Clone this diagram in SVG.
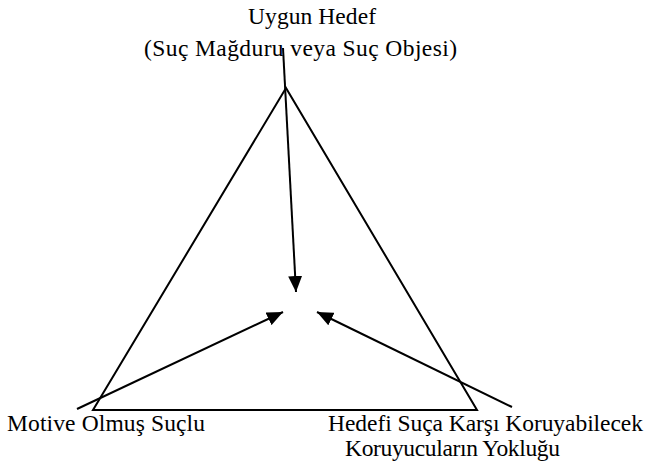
<svg xmlns="http://www.w3.org/2000/svg" width="650" height="468" viewBox="0 0 650 468">
<defs>
<style>
text{font-family:"Liberation Serif","Times New Roman",serif;font-size:23.5px;fill:#000}
.ln{stroke:#000;stroke-width:2;fill:none}
</style>
<marker id="ahb" markerWidth="16" markerHeight="14" refX="16" refY="7" orient="auto" markerUnits="userSpaceOnUse" viewBox="0 0 16 14">
<path d="M0,0 L16,7 L0,14 Z" fill="#000"/>
</marker>
</defs>
<rect width="650" height="468" fill="#fff"/>
<g id="triangle">
<polygon class="ln" points="286,88 93,410 477,410"/>
</g>
<g id="connectors">
<line class="ln" x1="283" y1="48" x2="296" y2="292" marker-end="url(#ahb)"/>
<line class="ln" x1="77" y1="409" x2="283" y2="312" marker-end="url(#ahb)"/>
<line class="ln" x1="512" y1="407" x2="317" y2="312" marker-end="url(#ahb)"/>
</g>
<g id="node-target">
<text x="248" y="24" textLength="128">Uygun Hedef</text>
<text x="144" y="56" textLength="313">(Suç Mağduru veya Suç Objesi)</text>
</g>
<g id="node-offender">
<text x="7" y="431" textLength="198">Motive Olmuş Suçlu</text>
</g>
<g id="node-guardian">
<text x="328" y="431" textLength="315">Hedefi Suça Karşı Koruyabilecek</text>
<text x="345" y="456" textLength="215">Koruyucuların Yokluğu</text>
</g>
</svg>
